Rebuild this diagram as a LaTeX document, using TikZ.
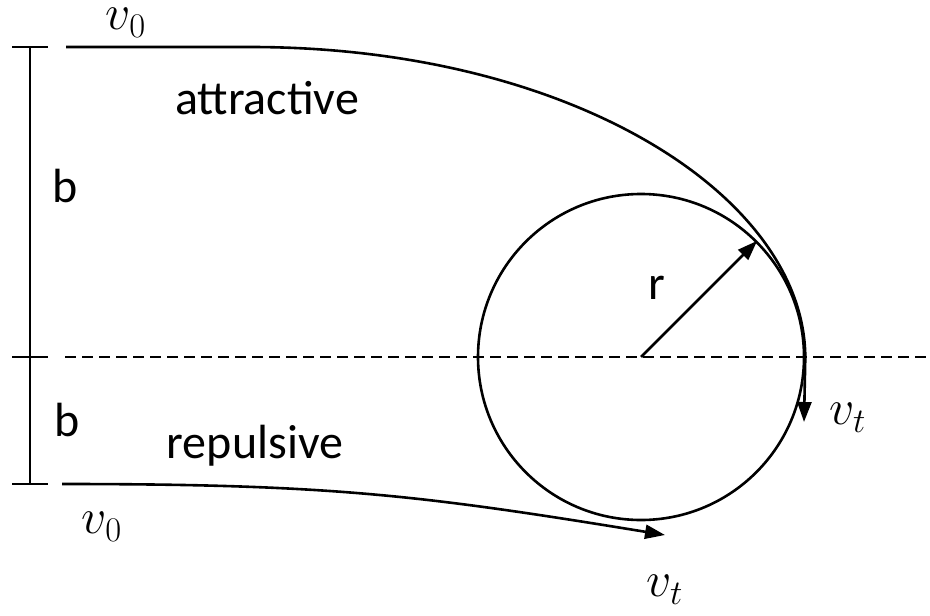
\documentclass[tikz,border=0pt]{standalone}
\usepackage{fontspec}
\setmainfont{Carlito}
\usetikzlibrary{arrows.meta}
\tikzset{
  traj/.style={-{Triangle[length=10pt,width=7pt]}},
  axis/.style={dashed, dash pattern=on 5.5pt off 3pt}
}
\begin{document}
\begin{tikzpicture}[x=0.5pt,y=-0.5pt,line width=1.3pt,font=\fontsize{24}{29}\selectfont]
        \useasboundingbox (0,0) rectangle (930,615);
        %bersaglio
        \node (disk) at (641,357) [circle,draw,minimum size=163pt,inner sep=0pt]{};
        \draw[axis] (65,357) --++ (865,0); %asse
        \draw[traj] (disk.center) -- (disk.45);
        \node (r) at (657,288) {r};
        %parametro d'urto
        \coordinate (btop) at (30,47);
        \coordinate (bmid) at (30,357);
        \coordinate (bbot) at (30,484);
        \draw (btop) -- (bbot);
        \draw (btop) ++(-18,0) --++ (36,0);
        \draw (bmid) ++(-18,0) --++ (36,0);
        \draw (bbot) ++(-18,0) --++ (36,0);
        \node (b1) at (65,186) {b};
        \node (b2) at (67,420) {b};
        %traiettoria attrattiva
        \coordinate (start1) at (66,47);
        \coordinate (end1) at (804,422);
        \draw[traj] (start1) --++ (184,0) .. controls (570,47) and (804,195) .. (disk.east) -- (end1);
        \node (v0a) at (126,23) {$v_0$};
        \node (vta) at (848,418) {$v_t$};
        \node (attr) at (267,98) {attractive};
        %traiettoria repulsiva
        \coordinate (start2) at (62,484);
        \coordinate (end2) at (665,535);
        \draw[traj] (start2) .. controls (330,484) and (420,495) .. (end2);
        \node (v0b) at (102,527) {$v_0$};
        \node (vtb) at (665,590) {$v_t$};
        \node (rep) at (255,446) {repulsive};
    \end{tikzpicture}
\end{document}
